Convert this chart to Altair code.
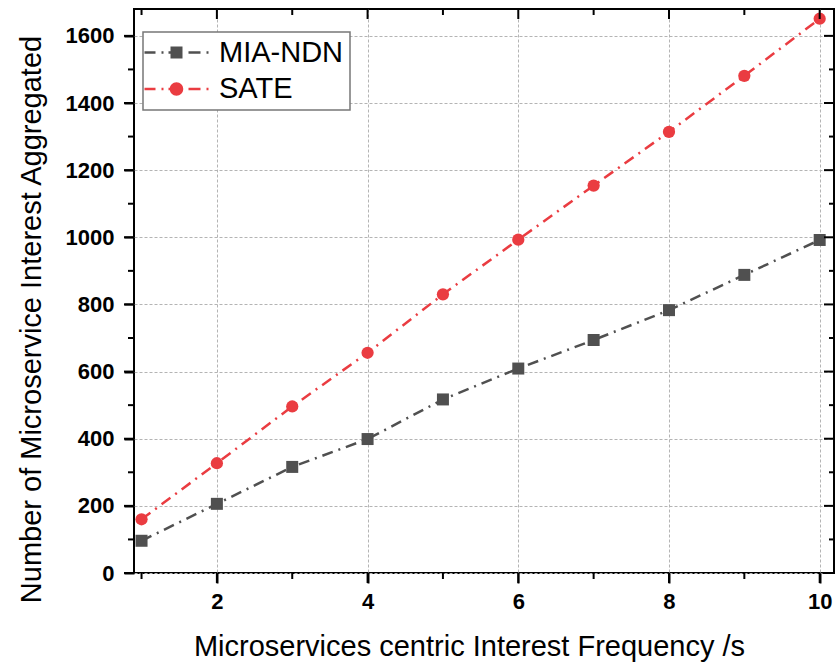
import altair as alt
import pandas as pd

# ---- data ----
freq = [1, 2, 3, 4, 5, 6, 7, 8, 9, 10]
mia_ndn = [96, 206, 316, 399, 517, 609, 694, 783, 888, 992]
sate = [160, 327, 496, 656, 830, 993, 1154, 1314, 1481, 1651]
series_names = ["MIA-NDN", "SATE"]
series_colors = ["#505050", "#ea3c41"]

x_major_ticks = [2, 4, 6, 8, 10]
x_minor_ticks = [1, 3, 5, 7, 9]
y_major_ticks = [0, 200, 400, 600, 800, 1000, 1200, 1400, 1600]
y_minor_ticks = [100, 300, 500, 700, 900, 1100, 1300, 1500]

x_title = "Microservices centric Interest Frequency /s"
y_title = "Number of Microservice Interest Aggregated"

df = pd.DataFrame({
    "x": freq + freq,
    "y": mia_ndn + sate,
    "series": [series_names[0]] * len(freq) + [series_names[1]] * len(freq),
})
df_xmaj = pd.DataFrame({"x": x_major_ticks})
df_xmin = pd.DataFrame({"x": x_minor_ticks})
df_ymaj = pd.DataFrame({"y": y_major_ticks})
df_ymin = pd.DataFrame({"y": y_minor_ticks})

FONT = "Liberation Sans"
W, H = 700, 564

xs = alt.Scale(domain=[0.9, 10.19], nice=False, zero=False)
ys = alt.Scale(domain=[0, 1680], nice=False, zero=False)

x_axis = alt.Axis(
    values=x_major_ticks, title=x_title, grid=True, format="d",
    ticks=True, tickSize=10, tickWidth=2, tickColor="black", labelPadding=8,
    titleX=335, titleY=82, titleAlign="center", titleBaseline="alphabetic")
y_axis = alt.Axis(
    values=y_major_ticks, title=y_title, grid=True, format="d",
    ticks=True, tickSize=10, tickWidth=2, tickColor="black", labelPadding=10,
    titleX=-94, titleY=310, titleAngle=270, titleAlign="center",
    titleBaseline="alphabetic")

xq = alt.X("x:Q", scale=xs, axis=x_axis)
yq = alt.Y("y:Q", scale=ys, axis=y_axis)

dash = [11, 6, 2, 6]

line_mia = alt.Chart(df).transform_filter(alt.datum.series == series_names[0]).mark_line(
    color=series_colors[0], strokeWidth=2.5, strokeDash=dash).encode(x=xq, y=yq)
pts_mia = alt.Chart(df).transform_filter(alt.datum.series == series_names[0]).mark_point(
    shape="square", filled=True, size=144, color=series_colors[0], opacity=1).encode(x=xq, y=yq)
line_sate = alt.Chart(df).transform_filter(alt.datum.series == series_names[1]).mark_line(
    color=series_colors[1], strokeWidth=2.5, strokeDash=dash).encode(x=xq, y=yq)
pts_sate = alt.Chart(df).transform_filter(alt.datum.series == series_names[1]).mark_point(
    shape="circle", filled=True, size=150, color=series_colors[1], opacity=1).encode(x=xq, y=yq)

# legend symbol paths: dash-dot line with marker (filled pieces); 1 unit = 14.5 px
u = 14.5
def px(v):
    return round(v / u, 4)
t = px(1.25)
def seg(a, b):
    return f"M{px(a)},{-t}H{px(b)}V{t}H{px(a)}Z"
line_left = seg(-32, -21) + seg(-15, -13) + seg(-8, -6)
line_right = seg(12, 24) + seg(30, 32)
h = px(6)
sq = f"M{-h},{-h}H{h}V{h}H{-h}Z"
r = px(6.75)
ci = f"M{-r},0A{r},{r} 0 1,1 {r},0A{r},{r} 0 1,1 {-r},0Z"
path_sq = line_left + sq + line_right
path_ci = line_left + ci + line_right

leg = alt.Legend(title=None, orient="none", legendX=9, legendY=23,
                 symbolSize=841, symbolStrokeWidth=0, symbolOffset=13,
                 labelFontSize=29, labelFont=FONT, labelColor="black",
                 labelOffset=28, rowPadding=6.5, padding=6,
                 strokeColor="#777777", fillColor="white")

legend_layer = alt.Chart(df).transform_filter("false").mark_point(
    filled=True, opacity=1).encode(
    x=xq, y=yq,
    color=alt.Color("series:N", scale=alt.Scale(domain=series_names, range=series_colors), legend=leg),
    shape=alt.Shape("series:N", scale=alt.Scale(domain=series_names, range=[path_sq, path_ci]), legend=leg),
)

tick_style = dict(color="black", strokeWidth=2)
# bottom ticks (outward)
t_bmaj = alt.Chart(df_xmaj).mark_rule(**tick_style).encode(x=xq, y=alt.value(H), y2=alt.value(H + 10))
t_bmin = alt.Chart(df_xmin).mark_rule(**tick_style).encode(x=xq, y=alt.value(H), y2=alt.value(H + 6))
# top ticks (inward)
t_tmaj = alt.Chart(df_xmaj).mark_rule(**tick_style).encode(x=xq, y=alt.value(0), y2=alt.value(10))
t_tmin = alt.Chart(df_xmin).mark_rule(**tick_style).encode(x=xq, y=alt.value(0), y2=alt.value(6))
# left ticks (outward)
t_lmaj = alt.Chart(df_ymaj).mark_rule(**tick_style).encode(y=yq, x=alt.value(-10), x2=alt.value(0))
t_lmin = alt.Chart(df_ymin).mark_rule(**tick_style).encode(y=yq, x=alt.value(-6), x2=alt.value(0))
# right ticks (inward)
t_rmaj = alt.Chart(df_ymaj).mark_rule(**tick_style).encode(y=yq, x=alt.value(W - 10), x2=alt.value(W))
t_rmin = alt.Chart(df_ymin).mark_rule(**tick_style).encode(y=yq, x=alt.value(W - 5), x2=alt.value(W))

chart = alt.layer(
    line_mia, pts_mia, line_sate, pts_sate,
    t_bmaj, t_bmin, t_tmaj, t_tmin, t_lmaj, t_lmin, t_rmaj, t_rmin,
    legend_layer,
).properties(
    width=W, height=H,
    padding={"left": 134, "top": 9, "right": 1, "bottom": 90},
    autosize=alt.AutoSizeParams(type="none"),
    background="white",
).configure_view(
    stroke="black", strokeWidth=2
).configure_axis(
    labelFont=FONT, labelFontSize=22, labelFontWeight="bold", labelColor="black",
    tickColor="black", tickWidth=2, tickSize=10, domain=False,
    gridColor="#b4b4b4", gridDash=[3, 2], gridWidth=1,
    titleFont=FONT, titleFontSize=29, titleFontWeight="normal", titleColor="black",
).configure_legend(strokeWidth=1.5)

chart.save("out.html", embed_options={"renderer": "svg", "actions": False})
